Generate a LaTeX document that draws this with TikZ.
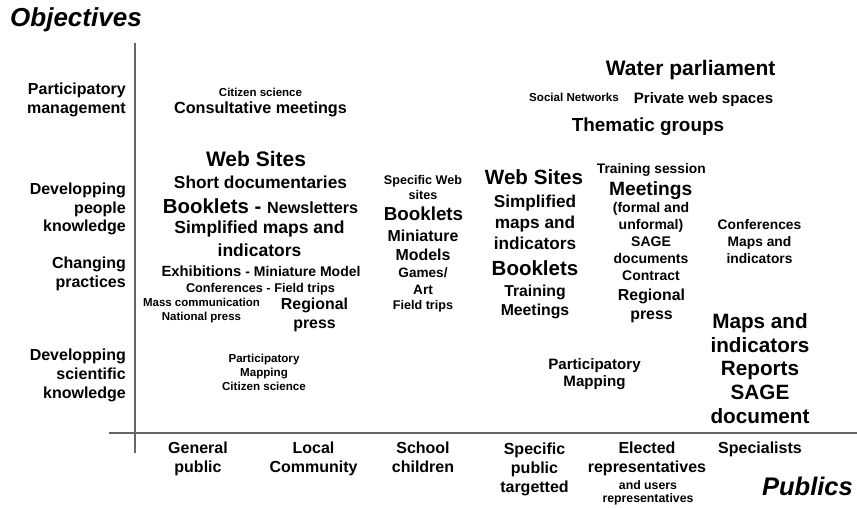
\documentclass[tikz,border=0pt]{standalone}
\usepackage{fontspec}
\setmainfont{Liberation Sans}
\usetikzlibrary{positioning}
\newcommand{\fsz}[2]{\fontsize{#1pt}{#2pt}\selectfont}
\tikzset{
    txt/.style={font=\bfseries, inner sep=0pt, anchor=base, align=center},
    side/.style={txt, align=right, anchor=base east, font=\bfseries\fsz{16}{18.7}},
    pub/.style={txt, font=\bfseries\fsz{16}{19.3}},
    axis/.style={draw=black!60, line width=1.2pt}
}
\begin{document}
\begin{tikzpicture}[x=1pt,y=-1pt]
    \useasboundingbox (0,0) rectangle (857,508);

    % axes
    \coordinate (ytop) at (135,43);
    \coordinate (ybot) at (135,453);
    \coordinate (xleft) at (109,433);
    \coordinate (xright) at (857,433);
    \draw[axis] (ytop) -- (ybot);
    \draw[axis] (xleft) -- (xright);

    \node[txt, anchor=base west, font=\bfseries\itshape\fsz{26}{30}] (obj) at (10,26.7) {Objectives};
    \node[txt, anchor=base east, font=\bfseries\itshape\fsz{25.5}{30}] (pubs) at (853,495) {Publics};

    % objectives (base = last line)
    \node[side] (partman) at (126,113.3) {Participatory\\management};
    \node[side] (devpeople) at (126,231.7) {Developping\\people\\knowledge};
    \node[side] (changing) at (126,287.3) {Changing\\practices};
    \node[side] (devsci) at (126,398.3) {Developping\\scientific\\knowledge};

    % publics
    \node[pub] (general) at (198,472.7) {General\\public};
    \node[pub] (local) at (313.5,472.7) {Local\\Community};
    \node[pub] (school) at (423,472.5) {School\\children};
    \node[pub] (specific) at (534.5,492.7) {Specific\\public\\targetted};
    \node[pub] (elected) at (647,472.7) {Elected\\representatives};
    \node[txt, font=\bfseries\fsz{12.3}{13}] (users) at (648,502.3) {and users\\representatives};
    \node[pub] (specialists) at (760,453.5) {Specialists};

    % general public / local community
    \node[txt, font=\bfseries\fsz{11.5}{14}] (cit1) at (260.5,96.7) {Citizen science};
    \node[txt, font=\bfseries\fsz{16.2}{19}] (consult) at (260.5,114) {Consultative meetings};
    \node[txt, font=\bfseries\fsz{21}{24}] (web1) at (256,166.7) {Web Sites};
    \node[txt, font=\bfseries\fsz{17.3}{20}] (docs) at (260.5,188.7) {Short documentaries};
    \node[txt, font=\bfseries\fsz{20.4}{24}] (book1) at (260.5,213) {Booklets - {\fsz{16.2}{19}Newsletters}};
    \node[txt, font=\bfseries\fsz{17.5}{23.4}] (maps1) at (259.5,256.7) {Simplified maps and\\indicators};
    \node[txt, font=\bfseries\fsz{14.8}{17}] (exhib) at (261,276.7) {Exhibitions {\fsz{14}{17}- Miniature Model}};
    \node[txt, font=\bfseries\fsz{12.7}{15}] (conf1) at (260.5,292.3) {Conferences - Field trips};
    \node[txt, font=\bfseries\fsz{11.5}{14}] (mass) at (201.5,320.7) {Mass communication\\National press};
    \node[txt, font=\bfseries\fsz{15.9}{19.4}] (reg1) at (314.5,328.7) {Regional\\press};
    \node[txt, font=\bfseries\fsz{11.6}{14.2}] (pmap1) at (264,390.7) {Participatory\\Mapping\\Citizen science};

    % school children
    \node[txt, font=\bfseries\fsz{12.6}{14}] (web3) at (423,199) {Specific Web\\sites};
    \node[txt, font=\bfseries\fsz{18.8}{22}] (book3) at (423.5,220) {Booklets};
    \node[txt, font=\bfseries\fsz{15.9}{19}] (mini) at (423,260.7) {Miniature\\Models};
    \node[txt, font=\bfseries\fsz{13.6}{16.7}] (games) at (423,294) {Games/\\Art};
    \node[txt, font=\bfseries\fsz{12.6}{15}] (trips) at (423,309) {Field trips};

    % specific public targetted
    \node[txt, font=\bfseries\fsz{20.6}{24}] (web4) at (534,185) {Web Sites};
    \node[txt, font=\bfseries\fsz{17.2}{20.8}] (maps4) at (535,249.3) {Simplified\\maps and\\indicators};
    \node[txt, font=\bfseries\fsz{20.5}{24}] (book4) at (535,275) {Booklets};
    \node[txt, font=\bfseries\fsz{15.8}{19}] (train4) at (535,315.7) {Training\\Meetings};

    % elected representatives
    \node[txt, font=\bfseries\fsz{13.8}{16}] (session) at (651.3,173.3) {Training session};
    \node[txt, font=\bfseries\fsz{19.2}{22}] (meet5) at (650.7,195) {Meetings};
    \node[txt, font=\bfseries\fsz{14}{17}] (formal) at (651,280.7) {(formal and\\unformal)\\SAGE\\documents\\Contract};
    \node[txt, font=\bfseries\fsz{15.9}{18.6}] (reg5) at (651.5,319.3) {Regional\\press};

    % specialists
    \node[txt, font=\bfseries\fsz{13.8}{16.7}] (conf6) at (759.5,263.3) {Conferences\\Maps and\\indicators};
    \node[txt, font=\bfseries\fsz{20.7}{23.75}] (reports) at (760,423.3) {Maps and\\indicators\\Reports\\SAGE\\document};

    % participatory management
    \node[txt, font=\bfseries\fsz{21}{24}] (water) at (690.7,76) {Water parliament};
    \node[txt, font=\bfseries\fsz{11.6}{14}] (social) at (574,101.7) {Social Networks};
    \node[txt, font=\bfseries\fsz{15.1}{18}] (private) at (703.5,104) {Private web spaces};
    \node[txt, font=\bfseries\fsz{18.9}{22}] (thematic) at (648,131.7) {Thematic groups};

    \node[txt, font=\bfseries\fsz{15.1}{17.4}] (pmap4) at (594.5,386.7) {Participatory\\Mapping};
\end{tikzpicture}
\end{document}
